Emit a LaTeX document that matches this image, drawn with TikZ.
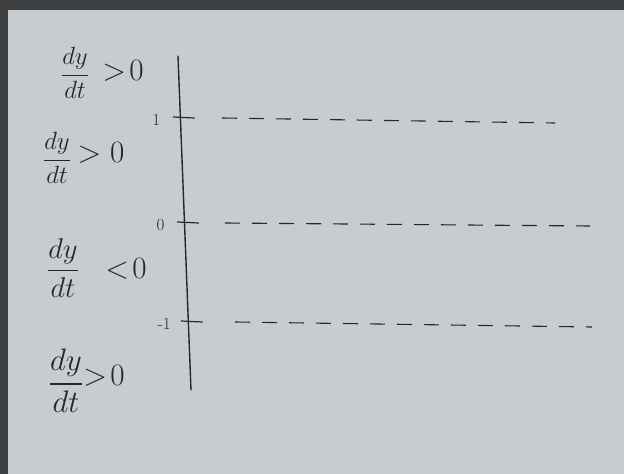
\documentclass[tikz,border=0pt]{standalone}
\usepackage{amsmath}
\usepackage{tikz}
\usetikzlibrary{calc,positioning}
\definecolor{paper}{RGB}{201,204,207}
\definecolor{frame}{RGB}{62,64,66}
\definecolor{pencil}{RGB}{38,38,44}

\begin{document}
\begin{tikzpicture}[x=1pt,y=-1pt,
    ink/.style={draw=pencil,line width=1.4pt,line cap=round},
    level/.style={draw=pencil,line width=1.1pt,dash pattern=on 15pt off 12pt},
    lab/.style={text=pencil,font=\fontsize{17}{20}\selectfont},
    frac/.style={text=pencil,font=\fontsize{24}{28}\selectfont,inner sep=1pt},
    rel/.style={text=pencil,font=\fontsize{24}{28}\selectfont,inner sep=1pt,scale=1.25}]
  \useasboundingbox (0,0) rectangle (624,474);
  %Paper
  \fill[frame] (0,0) rectangle (624,474);
  \fill[paper] (8,10) rectangle (624,474);
  %Axis
  \coordinate (top) at (178,56);
  \coordinate (bot) at (191,390);
  \draw[ink] (top) -- (bot);
  %Levels
  \foreach \name/\y/\txt/\xs/\xe/\dy in {one/117/1/222/555/5, zero/222/0/225/590/3, mone/321/{-1}/235/592/5}{
    \coordinate (\name) at ($(top)!{(\y-56)/334}!(bot)$);
    \draw[ink,line width=1.2pt] ($(\name)+(-7,0)$) -- ($(\name)+(14,1)$);
    \node[lab] (\name-lab) at ($(\name)+(-24,3)$) {\txt};
    \coordinate (\name-s) at (\xs,\y+1);
    \coordinate (\name-e) at (\xe,\y+1+\dy);
    \draw[level] (\name-s) -- (\name-e);
  }
  %Rates
  \node[frac] (frac1) at (75,73) {$\dfrac{dy}{dt}$};
  \node[rel] (rel1) at (123,71) {$>\!0$};
  \node[frac] (frac2) at (57,158) {$\dfrac{dy}{dt}$};
  \node[rel] (rel2) at (101,153) {$>0$};
  \node[frac,scale=1.15] (frac3) at (63,268) {$\dfrac{dy}{dt}$};
  \node[rel] (rel3) at (126,269) {$<\!0$};
  \node[frac,scale=1.25] (frac4) at (66,381) {$\dfrac{dy}{dt}$};
  \node[rel] (rel4) at (104,376) {$>\!0$};
\end{tikzpicture}
\end{document}
